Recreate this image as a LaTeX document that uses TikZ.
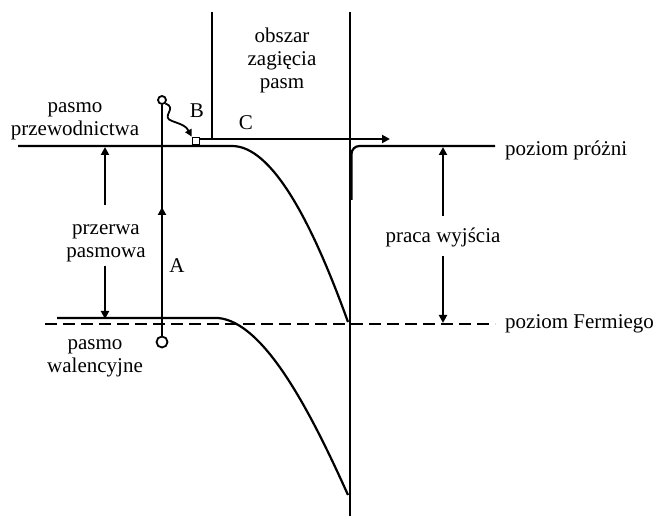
\documentclass[tikz,border=0pt]{standalone}
\usepackage{fontspec}
\setmainfont{Liberation Serif}
\usetikzlibrary{arrows.meta}
\begin{document}
\begin{tikzpicture}[x=1pt,y=-1pt,
  ln/.style={line width=2.2pt},
  tip/.style={-{Triangle[length=8pt,width=8pt]}},
  lbl/.style={inner sep=0pt,align=center,font=\fontsize{21}{23}\selectfont},
  dot/.style={circle,draw,line width=1.8pt,inner sep=0pt,fill=white}]
\useasboundingbox (0,0) rectangle (657,516);
% region boundaries
\coordinate (lt) at (212,12); \coordinate (lb) at (212,140);
\coordinate (rt) at (350,12); \coordinate (rb) at (350,516);
\draw[ln] (lt) -- (lb);
\draw[ln] (rt) -- (rb);
% conduction band
\coordinate (cb0) at (18,146); \coordinate (cb1) at (232,146); \coordinate (cbs) at (348,322);
\draw[ln] (cb0) -- (cb1) .. controls (272,146) and (312,222) .. (cbs);
% vacuum level
\coordinate (vac0) at (351.5,200); \coordinate (vac1) at (351.5,146); \coordinate (vac2) at (495,146);
\draw[ln,rounded corners=8pt] (vac0) -- (vac1) -- (vac2);
% valence band
\coordinate (vb0) at (57,318); \coordinate (vb1) at (218,318); \coordinate (vbs) at (348,495);
\draw[ln] (vb0) -- (vb1) .. controls (265,322) and (312,415) .. (vbs);
% Fermi level
\coordinate (f0) at (45,324); \coordinate (f1) at (495,324);
\draw[ln,dash pattern=on 12pt off 6pt] (f0) -- (f1);
% electron transitions
\node[dot,minimum size=8pt] (etop) at (162,100) {};
\node[dot,minimum size=11pt] (ebot) at (162,342) {};
\coordinate (amid) at (162,207);
\draw[ln,tip] (ebot.north) -- (amid);
\draw[ln] ([yshift=-3pt]amid) -- (etop.south);
\node[draw,line width=1.8pt,minimum size=7pt,inner sep=0pt] (sq) at (196,141) {};
\draw[line width=1.8pt,-{Triangle[length=7pt,width=7pt]}] (etop.south east) .. controls (178,108) and (160,117) .. (172,121) .. controls (183,125) and (186,126) .. (sq.north west);
\coordinate (cend) at (390,139);
\draw[ln,tip] ([yshift=2pt]sq.east) -- (cend);
% labels
\node[lbl] (lcb) at (75,121.5) {pasmo\\przewodnictwa};
\node[lbl] (lgap) at (106,243) {przerwa\\pasmowa};
\node[lbl] (lA) at (177,266) {A};
\node[lbl] (lB) at (197,111) {B};
\node[lbl] (lC) at (246,123) {C};
\node[lbl] (lreg) at (282,60) {obszar\\zagięcia\\pasm};
\node[lbl] (lwf) at (443,237) {praca wyjścia};
\node[lbl,anchor=west] (lvac) at (505,150) {poziom próżni};
\node[lbl,anchor=west] (lfer) at (505,324) {poziom Fermiego};
\node[lbl] (lvb) at (95,358) {pasmo\\walencyjne};
% band gap arrows
\coordinate (g0) at (105,147); \coordinate (g1) at (105,205);
\coordinate (g2) at (105,266); \coordinate (g3) at (105,319);
\draw[ln,tip] (g1) -- (g0);
\draw[ln,tip] (g2) -- (g3);
% work function arrows
\coordinate (w0) at (443,147); \coordinate (w1) at (443,216);
\coordinate (w2) at (443,256); \coordinate (w3) at (443,323);
\draw[ln,tip] (w1) -- (w0);
\draw[ln,tip] (w2) -- (w3);
\end{tikzpicture}
\end{document}
